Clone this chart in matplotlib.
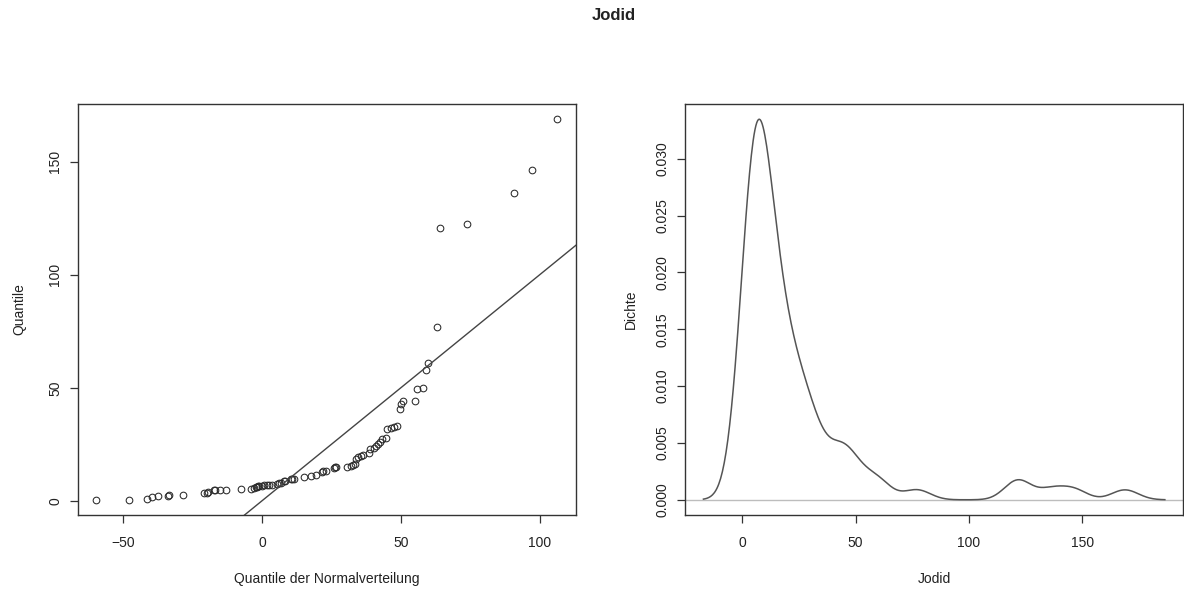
import numpy as np
import matplotlib
matplotlib.use("Agg")
import matplotlib.pyplot as plt

# ---- data ----
normal_quantiles = [-59.9, -48.1, -41.6, -39.7, -37.4, -34.1, -33.6, -28.6, -20.9, -20.0,
                    -19.6, -17.4, -17.0, -15.1, -13.0, -7.7, -4.1, -2.9, -2.3, -2.0,
                    -1.6, -1.1, 0.1, 0.7, 1.9, 2.5, 3.7, 5.5, 6.2, 6.7,
                    7.9, 8.3, 10.3, 10.8, 11.5, 15.1, 17.5, 19.3, 21.4, 21.8,
                    22.9, 25.9, 26.2, 26.5, 30.5, 31.9, 32.9, 33.5, 33.8, 34.4,
                    35.6, 36.5, 38.6, 38.8, 40.4, 41.2, 41.6, 42.5, 43.3, 44.5,
                    45.1, 46.3, 47.5, 48.7, 49.7, 50.2, 50.9, 55.1, 55.8, 57.8,
                    59.2, 59.6, 63.1, 64.1, 73.9, 90.8, 97.2, 106.4]
jodid = [0.4, 0.4, 0.9, 1.8, 2.1, 2.2, 2.4, 2.5, 3.2, 3.6,
         3.9, 4.6, 4.7, 4.7, 4.9, 5.2, 5.2, 5.8, 6.0, 6.2,
         6.4, 6.5, 6.6, 6.8, 6.8, 7.1, 7.1, 7.5, 7.8, 8.0,
         8.6, 8.6, 9.4, 9.6, 9.7, 10.5, 10.8, 11.2, 12.9, 13.0,
         13.3, 14.6, 14.8, 14.9, 14.8, 15.3, 15.6, 16.1, 18.3, 19.2,
         19.8, 20.1, 21.3, 23.0, 23.5, 24.2, 25.2, 26.0, 27.5, 27.9,
         31.6, 32.2, 32.5, 33.2, 40.4, 43.0, 44.0, 44.0, 49.3, 49.7,
         58.0, 60.8, 77.1, 120.8, 122.5, 136.3, 146.3, 168.9]

title = "Jodid"
left_xlabel = "Quantile der Normalverteilung"
left_ylabel = "Quantile"
right_xlabel = "Jodid"
right_ylabel = "Dichte"
left_xticks = [-50, 0, 50, 100]
left_yticks = [0, 50, 100, 150]
right_xticks = [0, 50, 100, 150]
right_yticks = [0.000, 0.005, 0.010, 0.015, 0.020, 0.025, 0.030]

# ---- style ----
plt.rcParams['font.family'] = ['Liberation Sans', 'DejaVu Sans']
FS = 10
TXT = '#222222'
EDGE = '#333333'

W, H = 1184, 590
fig = plt.figure(figsize=(W / 100, H / 100), dpi=100)
fig.patch.set_facecolor('white')

def px_axes(l, r, t, b):
    return fig.add_axes([l / W, 1 - b / H, (r - l) / W, (b - t) / H])

def r_lim(vmin, vmax):
    d = vmax - vmin
    return vmin - 0.04 * d, vmax + 0.04 * d

def style(ax):
    for s in ax.spines.values():
        s.set_color(EDGE)
        s.set_linewidth(1.0)
    ax.tick_params(axis='both', direction='out', length=6, width=0.9,
                   color=EDGE, labelcolor=TXT, labelsize=FS)
    ax.tick_params(axis='x', pad=9)
    ax.tick_params(axis='y', pad=5)

# ---- left: Q-Q plot ----
ax1 = px_axes(77.5, 575.8, 104, 515)
xq = np.sort(np.array(normal_quantiles))
yq = np.sort(np.array(jodid))
ax1.plot(xq, yq, linestyle='none', marker='o', markersize=4.8,
         markerfacecolor='none', markeredgecolor='#2a2a2a', markeredgewidth=0.75)
ax1.axline((0, 0), slope=1, color='#444444', linewidth=1.0)
ax1.set_xlim(*r_lim(xq.min(), xq.max()))
ax1.set_ylim(*r_lim(yq.min(), yq.max()))
ax1.set_xticks(left_xticks)
ax1.set_xticklabels(['\u221250' if v == -50 else str(v) for v in left_xticks])
ax1.set_yticks(left_yticks)
ax1.set_yticklabels([str(v) for v in left_yticks], rotation=90, va='center')
style(ax1)
ax1.set_xlabel(left_xlabel, fontsize=FS, color=TXT, labelpad=16)
ax1.set_ylabel(left_ylabel, fontsize=FS, color=TXT, labelpad=16)

# ---- right: density ----
ax2 = px_axes(685, 1183.3, 104, 515)
y = np.array(jodid)
n = len(y)
q75, q25 = np.percentile(y, [75, 25])
bw = 0.9 * min(np.std(y, ddof=1), (q75 - q25) / 1.34) * n ** (-0.2)
grid = np.linspace(y.min() - 3 * bw, y.max() + 3 * bw, 512)
dens = np.exp(-0.5 * ((grid[:, None] - y[None, :]) / bw) ** 2).sum(axis=1) / (n * bw * np.sqrt(2 * np.pi))
ax2.axhline(0, color='#bdbdbd', linewidth=1.0, zorder=1)
ax2.plot(grid, dens, color='#555555', linewidth=1.1, zorder=2)
ax2.set_xlim(*r_lim(grid.min(), grid.max()))
ax2.set_ylim(*r_lim(0, dens.max()))
ax2.set_xticks(right_xticks)
ax2.set_xticklabels([str(v) for v in right_xticks])
ax2.set_yticks(right_yticks)
ax2.set_yticklabels(['%.3f' % v for v in right_yticks], rotation=90, va='center')
style(ax2)
ax2.set_xlabel(right_xlabel, fontsize=FS, color=TXT, labelpad=16)
ax2.set_ylabel(right_ylabel, fontsize=FS, color=TXT, labelpad=13)

fig.text(613.7 / W, 1 - 16 / H, title, ha='center', va='center',
         fontsize=12, fontweight='bold', color=TXT)

fig.savefig('out.png', dpi=100, facecolor='white')
